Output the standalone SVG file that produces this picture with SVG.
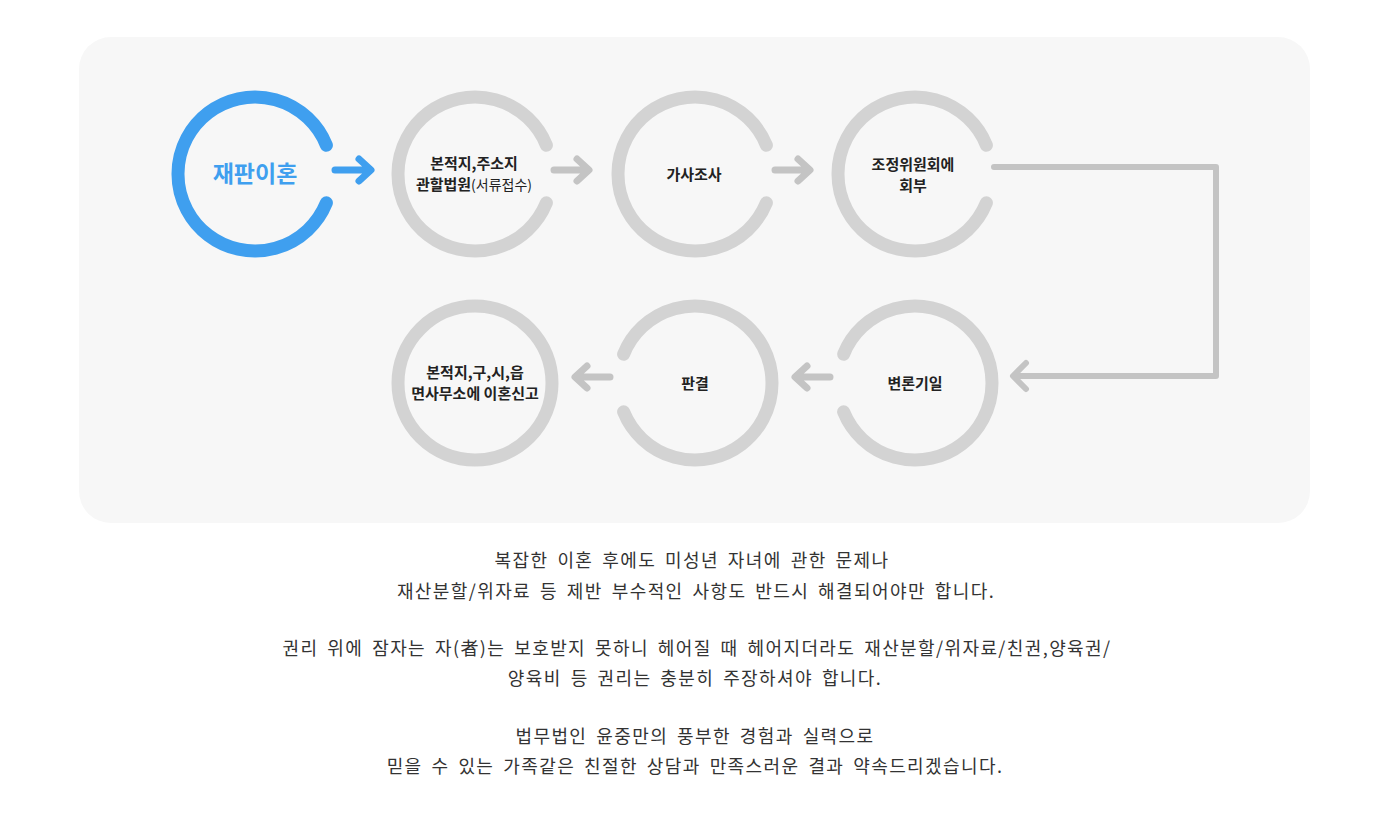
<svg xmlns="http://www.w3.org/2000/svg" width="1397" height="832" viewBox="0 0 1397 832">
<style>
.ring{fill:none;stroke:#d3d3d3;stroke-width:13;stroke-linecap:round}
.ringb{fill:none;stroke:#3f9fef;stroke-width:13;stroke-linecap:round}
.arr{fill:none;stroke:#c4c4c4;stroke-width:7;stroke-linecap:round;stroke-linejoin:round}
.arrb{fill:none;stroke:#3f9fef;stroke-width:7;stroke-linecap:round;stroke-linejoin:round}
.conn{fill:none;stroke:#c4c4c4;stroke-width:6;stroke-linecap:round;stroke-linejoin:round}
.lbl{font-family:"Noto Sans CJK KR","Noto Sans",sans-serif;font-size:15px;font-weight:bold;fill:#222;text-anchor:middle}
.lblb{font-family:"Noto Sans CJK KR","Noto Sans",sans-serif;font-size:23px;font-weight:bold;fill:#3f9fef;text-anchor:middle}
.body{font-family:"Noto Sans CJK KR","Noto Sans",sans-serif;font-size:18px;letter-spacing:1.4px;word-spacing:3.5px;fill:#333;text-anchor:middle}
</style>
<rect width="1397" height="832" fill="#ffffff"/>
<rect x="79" y="37" width="1231" height="486" rx="32" fill="#f7f7f7"/>

<g id="node-1">
<path class="ringb" d="M326.4,145.2 A77,77 0 1 0 326.4,202.8"/>
<text class="lblb" x="255" y="182">재판이혼</text>
</g>
<g id="node-2">
<path class="ring" d="M546.4,145.2 A77,77 0 1 0 546.4,202.8"/>
<text class="lbl" x="474" y="169">본적지,주소지</text>
<text class="lbl" x="474" y="190">관할법원<tspan font-weight="normal" font-size="14">(서류접수)</tspan></text>
</g>
<g id="node-3">
<path class="ring" d="M766.4,145.2 A77,77 0 1 0 766.4,202.8"/>
<text class="lbl" x="694" y="180">가사조사</text>
</g>
<g id="node-4">
<path class="ring" d="M986.4,145.2 A77,77 0 1 0 986.4,202.8"/>
<text class="lbl" x="913" y="170">조정위원회에</text>
<text class="lbl" x="913" y="191">회부</text>
</g>
<g id="node-5">
<path class="ring" d="M843.6,354.2 A77,77 0 1 1 843.6,411.8"/>
<text class="lbl" x="915" y="389">변론기일</text>
</g>
<g id="node-6">
<path class="ring" d="M623.6,354.2 A77,77 0 1 1 623.6,411.8"/>
<text class="lbl" x="695" y="389">판결</text>
</g>
<g id="node-7">
<circle class="ring" cx="475" cy="383" r="77"/>
<text class="lbl" x="475" y="378">본적지,구,시,읍</text>
<text class="lbl" x="475" y="399">면사무소에 이혼신고</text>
</g>

<g id="connectors">
<path class="arrb" d="M335,170 H370 M359,159 L371,170 L359,181"/>
<path class="arr" d="M554,170 H588 M577,159 L589,170 L577,181"/>
<path class="arr" d="M775,170 H809 M798,159 L810,170 L798,181"/>
<path class="conn" d="M994,167 H1216 V376 H1014 M1026,363 L1013,376 L1026,389"/>
<path class="arr" d="M830,377 H796 M807,366 L795,377 L807,388"/>
<path class="arr" d="M610,377 H576 M587,366 L575,377 L587,388"/>
</g>

<g id="body-text">
<text class="body" x="692" y="567">복잡한 이혼 후에도 미성년 자녀에 관한 문제나</text>
<text class="body" x="696" y="598">재산분할/위자료 등 제반 부수적인 사항도 반드시 해결되어야만 합니다.</text>
<text class="body" x="697" y="655">권리 위에 잠자는 자(者)는 보호받지 못하니 헤어질 때 헤어지더라도 재산분할/위자료/친권,양육권/</text>
<text class="body" x="695" y="685">양육비 등 권리는 충분히 주장하셔야 합니다.</text>
<text class="body" x="695" y="743">법무법인 윤중만의 풍부한 경험과 실력으로</text>
<text class="body" x="695" y="773">믿을 수 있는 가족같은 친절한 상담과 만족스러운 결과 약속드리겠습니다.</text>
</g>
</svg>
